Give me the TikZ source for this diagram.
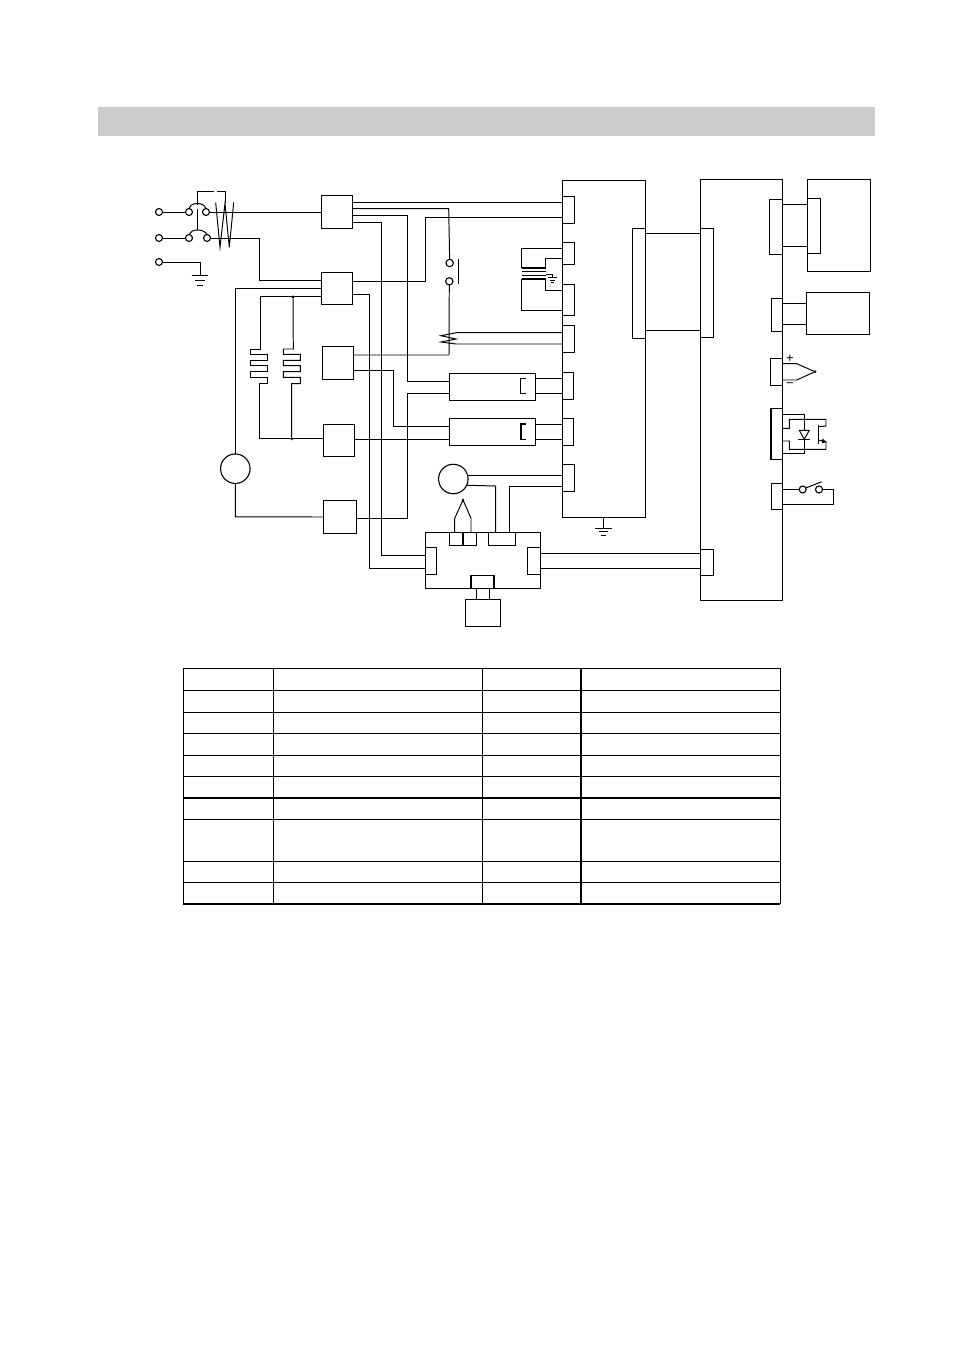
\documentclass[tikz,border=0pt]{standalone}
\usepackage{fontspec}
\setmainfont{Liberation Sans}
\tikzset{
  wire/.style={line width=0.98pt,line join=miter},
  thick wire/.style={line width=2.1pt},
  box/.style={draw,line width=0.98pt,rectangle,inner sep=0pt,outer sep=0pt,anchor=north west},
  term/.style={draw,line width=1.1pt,circle,fill=white,inner sep=0pt,outer sep=0pt,minimum size=7pt},
  motor/.style={draw,line width=1.1pt,circle,inner sep=0pt,outer sep=0pt,minimum size=29.5pt},
  dot/.style={circle,fill=black,inner sep=0pt,outer sep=0pt,minimum size=3.2pt},
  grid/.style={line width=1.1pt},
  heavy/.style={line width=2.1pt},
}
\newcommand\bx[5]{\node[box,minimum width={(#4-#2)*1pt},minimum height={(#5-#3)*1pt}] (#1) at (#2,#3) {};}
\begin{document}
\begin{tikzpicture}[x=1pt,y=-1pt]
\useasboundingbox (0,0) rectangle (954,1350);
\fill[black!20] (98,107) rectangle (875,136);

% contactor / relay boxes
\bx{kone}{321.7}{195}{352.3}{228}
\bx{ktwo}{321.7}{272}{352.3}{304.7}
\bx{kthree}{322.7}{346.7}{353.3}{379.7}
\bx{kfour}{323.3}{424}{354.7}{456.7}
\bx{kfive}{323.3}{500.7}{356.3}{533}

% main blocks
\bx{blockA}{562.3}{180}{645}{517.7}
\bx{blockB}{700.3}{179.7}{782}{600}
\bx{cna}{562.3}{196.7}{574}{223.3}
\bx{cnb}{562.3}{242}{574.3}{264.3}
\bx{cnc}{562.3}{284}{574}{315.7}
\bx{cnd}{562.3}{325.7}{574}{352}
\bx{cne}{562.3}{372.7}{573.3}{399}
\bx{cnf}{562.3}{418.7}{573.3}{445.7}
\bx{cng}{562.3}{464.7}{574.3}{491.7}
\bx{cnh}{632}{228}{645}{338}
\bx{cni}{700.3}{228}{713.3}{337.3}
\bx{cnj}{700.3}{549}{713}{575}
\bx{cnk}{769.3}{199.3}{782}{254.3}
\bx{cnl}{771.3}{298.7}{782}{331}
\bx{cnm}{770}{358.3}{782}{385.3}
\bx{cnn}{770.7}{408.3}{782}{459.3}
\bx{cno}{771.7}{483.3}{782}{509.3}
\draw[thick wire] (cnn.north west) -- (cnn.south west);

% right hand devices
\bx{mota}{807.7}{179.7}{870.7}{271}
\bx{motin}{807.7}{198.3}{820.3}{253.3}
\bx{motb}{806.3}{292.3}{869.7}{334.3}

% heaters
\bx{heata}{449.3}{373.3}{535.7}{400}
\bx{heatb}{449.3}{418.7}{535.7}{445.7}
\draw[wire] (526,378.3) -- (520.7,378.3) -- (520.7,393.7) -- (526,393.7);
\draw[line width=1.6pt] (526,424) -- (520.7,424) -- (520.7,439.3) -- (526,439.3);

% lower unit
\bx{unit}{425.7}{532.7}{540}{588.3}
\bx{uleft}{425.7}{547.3}{436.3}{574.3}
\bx{uright}{527.7}{547.3}{540}{574.3}
\bx{utopa}{449.7}{532.7}{476.3}{545.3}
\bx{utopb}{488.3}{532.7}{515.3}{545.3}
\bx{ubot}{470.7}{575.7}{494.3}{588.3}
\bx{ufoot}{465.3}{599.3}{500.7}{626.3}
\draw[line width=1.8pt] (463,532.7) -- (463,545.3);
\draw[line width=1.8pt] (ubot.north west) -- (ubot.south west) (ubot.north east) -- (ubot.south east);
\draw[wire] (476.7,588.3) -- (476.7,599.3) (489.7,588.3) -- (489.7,599.3);

% motors
\node[motor] (ma) at (235.3,468.7) {};
\node[motor] (mb) at (453.3,479) {};

% mains input
\node[term] (ta) at (159,212) {};
\node[term] (tb) at (159,238) {};
\node[term] (tc) at (159,262) {};
\node[term] (sa) at (189,212) {};
\node[term] (sb) at (206,212) {};
\node[term] (sc) at (189,238) {};
\node[term] (sd) at (207,238) {};
\draw[wire] (ta) -- (sa);
\draw[wire] (tb) -- (sc);
\draw[wire] (sa.90) .. controls (190.5,205) and (193,203.5) .. (197.3,203.5) .. controls (201.5,203.5) and (204.5,205) .. (sb.90);
\draw[wire] (sc.90) .. controls (190.5,231.5) and (193,230) .. (197.5,230) .. controls (202,230) and (205.5,231.5) .. (sd.90);
\draw[wire] (197.3,209) -- (197.3,230);
\draw[wire] (197.3,205) -- (197.3,191.7) -- (214,191.7) (217.3,191.7) -- (225,191.7) -- (225,203.3);
\draw[wire] (215.7,202.7) -- (220,247.3) -- (225,203.3) -- (229.3,247.3) -- (233.7,202.3);
\draw[wire] (sb) -- (kone.west |- sb);
\draw[wire] (sd) -- (259.3,238) -- (259.3,280) -- (ktwo.west |- 0,280);
\coordinate (gndc) at (200,275);
\draw[wire] (tc) -- (gndc |- tc) -- (gndc);
\draw[wire] (191.7,275) -- (208.3,275);
\draw[wire] (195,280) -- (205,280);
\draw[wire] (197.3,285) -- (202.7,285);

% wiring around K2 and the reactor coils
\draw[wire] (ktwo.west |- 0,288.3) -- (ma.north |- 0,288.3) -- (ma.north);
\draw[wire] (ma.south) -- (ma.south |- kfive.west) -- (kfive.west |- 0,517);
\node[dot] (da) at (293,297) {};
\node[dot] (db) at (291.7,438.7) {};
\coordinate (cla) at (260,349);
\draw[wire] (ktwo.west |- 0,296.7) -- (260,296.7) -- (cla) -- (250.7,349) -- (250.7,354.3) -- (267.3,354.3) -- (267.3,360.3) -- (250.7,360.3) -- (250.7,365.7) -- (267.3,365.7) -- (267.3,371.7) -- (250.7,371.7) -- (250.7,377.3) -- (267.3,377.3) -- (267.3,383.7) -- (259,383.7) -- (259,438.7) -- (db) -- (kfour.west |- db);
\draw[wire] (da) -- (293.3,349) -- (283.3,349) -- (283.3,354.3) -- (300.3,354.3) -- (300.3,360.3) -- (283.3,360.3) -- (283.3,365.7) -- (300.3,365.7) -- (300.3,371.7) -- (283.3,371.7) -- (283.3,377.3) -- (300.3,377.3) -- (300.3,383.7) -- (291.7,383.7) -- (db);

% switch
\node[term,minimum size=7.4pt] (swa) at (449.7,263) {};
\node[term,minimum size=7.4pt] (swb) at (449.3,281.3) {};
\draw[wire] (458.3,259.3) -- (458.3,284);

% K1 outputs
\draw[wire] (kone.east |- 0,202) -- (cna.west |- 0,202);
\draw[wire] (kone.east |- 0,208.7) -- (448.7,208.7) -- (swa);
\draw[wire] (kone.east |- 0,215) -- (407,215) -- (407,381.7) -- (heata.west |- 0,381.7);
\draw[wire] (kone.east |- 0,222) -- (381.7,222) -- (381.7,555.7) -- (uleft.west |- 0,555.7);
% K2 outputs
\draw[wire] (ktwo.east |- 0,281) -- (425.7,281) -- (425.7,217.7) -- (cna.west |- 0,217.7);
\draw[wire] (ktwo.east |- 0,294) -- (369,294) -- (369,568.3) -- (uleft.west |- 0,568.3);
% K3 outputs
\draw[wire] (kthree.east |- 0,355) -- (449,355) -- (swb);
\draw[wire] (kthree.east |- 0,370.3) -- (393.7,370.3) -- (393.7,426.3) -- (heatb.west |- 0,426.3);
% K4, K5
\draw[wire] (kfour.east |- 0,439) -- (heatb.west |- 0,439);
\draw[wire] (kfive.east |- 0,518.5) -- (407,518.5) -- (407,393) -- (heata.west |- 0,393);

% thermal zigzag
\draw[wire] (cnd.west |- 0,332.7) -- (456,332.7) -- (441,335.7) -- (456,339) -- (441,342) -- (456,344) -- (cnd.west |- 0,344);

% heater outputs
\draw[wire] (heata.east |- 0,378.3) -- (cne.west |- 0,378.3);
\draw[wire] (heata.east |- 0,393.7) -- (cne.west |- 0,393.7);
\draw[wire] (heatb.east |- 0,424) -- (cnf.west |- 0,424);
\draw[wire] (heatb.east |- 0,439.3) -- (cnf.west |- 0,439.3);

% transformer
\draw[wire] (cnb.west |- 0,248) -- (521.7,248) -- (521.7,267.7);
\draw[line width=1.7pt] (521.7,267.7) -- (545.7,267.7);
\draw[wire] (545.7,267.7) -- (545.7,258.7) -- (cnb.west |- 0,258.7);
\draw[wire] (521.7,271.7) -- (545.7,271.7);
\draw[wire] (521.7,275) -- (545.7,275);
\draw[line width=2.2pt] (521.7,279.3) -- (545.7,279.3);
\draw[wire] (521.7,279.3) -- (521.7,310) -- (cnc.west |- 0,310);
\draw[wire] (545.7,279.3) -- (545.7,290) -- (cnc.west |- 0,290);
\draw[wire] (545.7,274) -- (552.3,274) -- (552.3,277.3);
\draw[wire] (548.3,277.3) -- (556.7,277.3);
\draw[wire] (550,280) -- (555,280);
\draw[wire] (551.3,282.7) -- (553.7,282.7);

% fan motor wires
\draw[wire] (mb.13) -- (mb.13 -| cng.west);
\draw[wire] (mb.-25) -- (495.7,486) -- (495.7,532.7);
\draw[wire] (cng.west |- 0,486) -- (509.7,486) -- (509.7,532.7);

% thermocouple on unit
\draw[wire] (454.7,532.7) -- (454.7,518.3) -- (463,500) -- (471,518.3) -- (471,532.7);
\node[dot,minimum size=2.6pt] (tcdot) at (463,500) {};

% chassis ground
\coordinate (gndd) at (603.3,528.3);
\draw[wire] (blockA.south -| gndd) -- (gndd);
\draw[wire] (595,528.3) -- (611.7,528.3);
\draw[wire] (599,531.7) -- (607.7,531.7);
\draw[wire] (601,535.7) -- (606,535.7);

% between blocks
\draw[wire] (blockA.east |- 0,233.3) -- (cni.west |- 0,233.3);
\draw[wire] (blockA.east |- 0,330) -- (cni.west |- 0,330);
\draw[wire] (uright.east |- 0,553.3) -- (cnj.west |- 0,553.3);
\draw[wire] (uright.east |- 0,568) -- (cnj.west |- 0,568);

% right outputs
\draw[wire] (cnk.east |- 0,204.7) -- (mota.west |- 0,204.7);
\draw[wire] (cnk.east |- 0,246.7) -- (mota.west |- 0,246.7);
\draw[wire] (cnl.east |- 0,303.3) -- (motb.west |- 0,303.3);
\draw[wire] (cnl.east |- 0,324.3) -- (motb.west |- 0,324.3);

% thermocouple
\node[dot,minimum size=3pt] (tdot) at (815,371.7) {};
\draw[wire] (cnm.east |- 0,363.7) -- (796.7,363.7) -- (tdot) -- (796.7,380) -- (cnm.east |- 0,380);
\node[font=\fontsize{13}{13}\selectfont,inner sep=0pt] (plus) at (790,358.3) {+};
\node[font=\fontsize{13}{13}\selectfont,inner sep=0pt] (minus) at (790,385.3) {−};

% opto coupler
\draw[wire] (cnn.east |- 0,414.7) -- (804,414.7) -- (804,453.3) -- (cnn.east |- 0,453.3);
\draw[wire,fill=white] (799.3,430.3) -- (809.3,430.3) -- (804.3,439.3) -- cycle;
\draw[wire] (798.3,439.7) -- (810,439.7);
\draw[wire] (cnn.east |- 0,428.3) -- (789.3,428.3) -- (789.3,419.3) -- (826,419.3) -- (826,426) -- (818.3,426.7);
\draw[wire] (818.3,425) -- (818.3,444.3);
\draw[wire] (818.3,440) -- (826,441.7) -- (826,449.3) -- (789.3,449.3) -- (789.3,441) -- (cnn.east |- 0,441);
\fill (826.5,442.2) -- (821.8,443.3) -- (822.6,438.4) -- cycle;

% contact output
\node[term] (ka) at (802.7,489.5) {};
\node[term] (kb) at (819,489.5) {};
\draw[wire] (cno.east |- ka) -- (ka);
\draw[wire] (805,488.3) -- (821.7,481.7);
\draw[wire] (kb) -- (833.3,489.5) -- (833.3,504.3) -- (cno.east |- 0,504.3);

% table
\draw[grid] (183.3,668.3) rectangle (780.3,903.7);
\foreach \yy in {690.3,712.3,733.3,755.3,776.3,819.3,861.3,882.3}
  \draw[grid] (183.3,\yy) -- (780.3,\yy);
\draw[heavy] (183.3,797.7) -- (780.3,797.7);
\draw[heavy] (183.3,903.7) -- (780.3,903.7);
\draw[grid] (273.3,668.3) -- (273.3,903.7);
\draw[grid] (482.3,668.3) -- (482.3,903.7);
\draw[heavy] (580.7,668.3) -- (580.7,903.7);
\end{tikzpicture}
\end{document}
